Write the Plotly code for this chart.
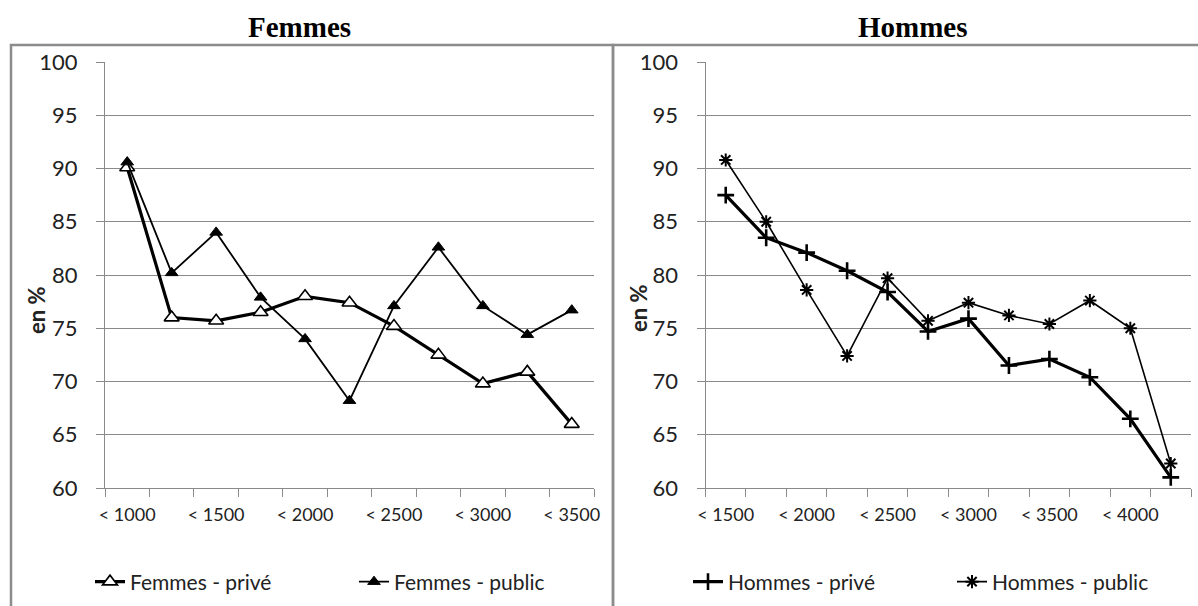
import plotly.graph_objects as go

# Income brackets (monthly, euros) and shares in %
fem_cats = ["< 1000", "< 1250", "< 1500", "< 1750", "< 2000", "< 2250",
            "< 2500", "< 2750", "< 3000", "< 3250", "< 3500"]
fem_prive = [90.1, 76.0, 75.7, 76.5, 78.0, 77.4, 75.2, 72.5, 69.8, 70.9, 66.0]
fem_public = [90.6, 80.2, 84.0, 77.9, 74.0, 68.2, 77.1, 82.6, 77.1, 74.4, 76.7]

hom_cats = ["< 1500", "< 1750", "< 2000", "< 2250", "< 2500", "< 2750",
            "< 3000", "< 3250", "< 3500", "< 3750", "< 4000", "< 4250"]
hom_prive = [87.5, 83.5, 82.1, 80.4, 78.4, 74.7, 75.9, 71.5, 72.1, 70.4, 66.5, 61.0]
hom_public = [90.8, 85.0, 78.6, 72.4, 79.7, 75.7, 77.4, 76.2, 75.4, 77.6, 75.0, 62.3]

W, H = 1198, 606
GRID = "#8a8a8a"
TICK_FONT = "Lato"


def px(x):
    return x / W


def py(y):
    return 1 - y / H


fig = go.Figure()

fig.add_trace(go.Scatter(
    x=fem_cats, y=fem_prive, name="Femmes - privé", xaxis="x", yaxis="y",
    mode="lines+markers", line=dict(color="black", width=3.2),
    marker=dict(symbol="triangle-up", size=13, color="white",
                line=dict(color="black", width=1.6)),
    legend="legend", legendwidth=219))
fig.add_trace(go.Scatter(
    x=fem_cats, y=fem_public, name="Femmes - public", xaxis="x", yaxis="y",
    mode="lines+markers", line=dict(color="black", width=1.8),
    marker=dict(symbol="triangle-up", size=11, color="black",
                line=dict(color="black", width=1)),
    legend="legend", legendwidth=160))

fig.add_trace(go.Scatter(
    x=hom_cats, y=hom_prive, name="Hommes - privé", xaxis="x2", yaxis="y2",
    mode="lines+markers", line=dict(color="black", width=3.2),
    marker=dict(symbol="cross-thin-open", size=12,
                line=dict(color="black", width=2.6)),
    legend="legend2", legendwidth=219))
fig.add_trace(go.Scatter(
    x=hom_cats, y=hom_public, name="Hommes - public", xaxis="x2", yaxis="y2",
    mode="lines+markers", line=dict(color="black", width=1.6),
    marker=dict(symbol="asterisk-open", size=11,
                line=dict(color="black", width=2)),
    legend="legend2", legendwidth=160))


def xaxis_cfg(cats, domain):
    shown = [c if i % 2 == 0 else "" for i, c in enumerate(cats)]
    return dict(
        domain=domain, type="category", tickmode="array",
        tickvals=cats, ticktext=shown, tickson="boundaries", tickangle=0,
        ticks="outside", ticklen=8, tickcolor=GRID, tickwidth=1,
        showline=True, linecolor=GRID, linewidth=1, showgrid=False,
        range=[-0.5, len(cats) - 0.5], ticklabelstandoff=10,
        tickfont=dict(family=TICK_FONT, size=18, color="#222"),
        zeroline=False, fixedrange=True, automargin=False)


def yaxis_cfg(anchor):
    return dict(
        domain=[py(488), py(62)], range=[60, 100], dtick=5, tick0=60,
        ticks="outside", ticklen=8, tickcolor=GRID, tickwidth=1,
        showline=True, linecolor=GRID, linewidth=1,
        showgrid=True, gridcolor=GRID, gridwidth=1,
        ticklabelstandoff=14, anchor=anchor, zeroline=False,
        tickfont=dict(family=TICK_FONT, size=22, color="#222"),
        fixedrange=True, automargin=False)


legend_common = dict(
    orientation="h", xanchor="left", yanchor="middle", y=py(582),
    bgcolor="rgba(0,0,0,0)", borderwidth=0,
    font=dict(family=TICK_FONT, size=21, color="#222"),
    traceorder="normal")

fig.update_layout(
    width=W, height=H, margin=dict(l=0, r=0, t=0, b=0, autoexpand=False),
    paper_bgcolor="white", plot_bgcolor="white",
    xaxis=xaxis_cfg(fem_cats, [px(105), px(594)]),
    yaxis=yaxis_cfg("x"),
    xaxis2=dict(xaxis_cfg(hom_cats, [px(705.5), px(1191)]), anchor="y2"),
    yaxis2=yaxis_cfg("x2"),
    legend=dict(legend_common, x=px(90)),
    legend2=dict(legend_common, x=px(688)),
    shapes=[
        dict(type="rect", xref="paper", yref="paper",
             x0=px(11), x1=px(613), y0=py(640), y1=py(45),
             line=dict(color="#8c8c8c", width=2.5)),
        dict(type="rect", xref="paper", yref="paper",
             x0=px(613), x1=px(1240), y0=py(640), y1=py(45),
             line=dict(color="#8c8c8c", width=2.5)),
    ],
    annotations=[
        dict(text="<b>Femmes</b>", x=px(299), y=py(27), xref="paper",
             yref="paper", showarrow=False, xanchor="center", yanchor="middle",
             font=dict(family="Liberation Serif", size=29, color="black")),
        dict(text="<b>Hommes</b>", x=px(913), y=py(27), xref="paper",
             yref="paper", showarrow=False, xanchor="center", yanchor="middle",
             font=dict(family="Liberation Serif", size=29, color="black")),
        dict(text="<b>en %</b>", x=px(36), y=py(310), xref="paper",
             yref="paper", showarrow=False, textangle=-90,
             xanchor="center", yanchor="middle",
             font=dict(family=TICK_FONT, size=22, color="#222")),
        dict(text="<b>en %</b>", x=px(638), y=py(308), xref="paper",
             yref="paper", showarrow=False, textangle=-90,
             xanchor="center", yanchor="middle",
             font=dict(family=TICK_FONT, size=22, color="#222")),
    ],
    showlegend=True,
)

fig.write_html("out.html")
